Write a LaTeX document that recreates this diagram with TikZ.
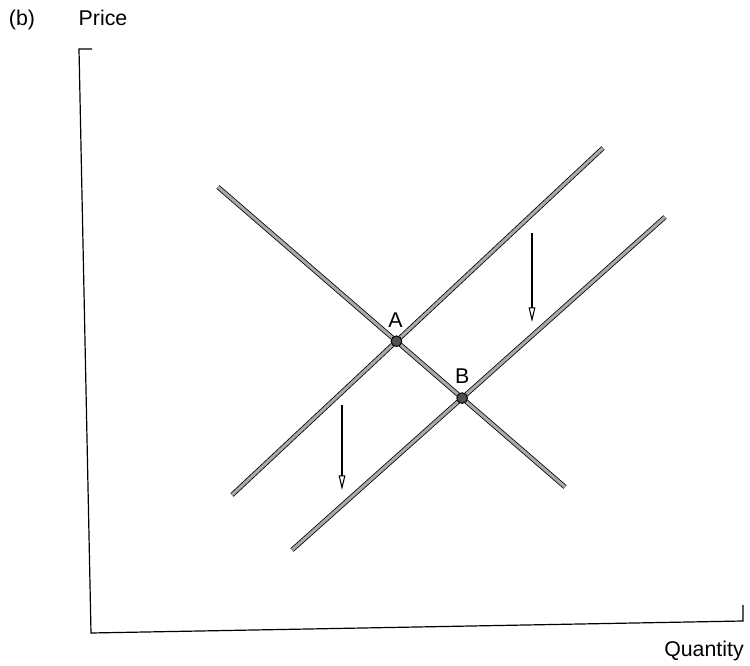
\documentclass[tikz,border=0pt]{standalone}
\usepackage{fontspec}
\setmainfont{Liberation Sans}
\usetikzlibrary{arrows.meta}
\tikzset{every picture/.style={line width=0.75pt}}
\tikzset{
market line/.style={draw=black, line width=0.6pt, double={rgb,255:red,170;green,170;blue,170}, double distance=2.3pt},
shift arrow/.style={draw=black, line width=0.8pt, -{Triangle[open, length=11pt, width=5pt]}},
eq point/.style={circle, draw=black, line width=0.7pt, fill={rgb,255:red,80;green,80;blue,80}, inner sep=0pt, minimum size=8pt},
axis label/.style={inner sep=0.75pt, font=\fontsize{16}{19}\selectfont}}

\begin{document}
\begin{tikzpicture}[x=0.75pt,y=0.75pt,yscale=-1,xscale=1]
\useasboundingbox (0,0) rectangle (750,666);

%Straight Lines: axes
\coordinate (ytop) at (79,49);
\coordinate (ytick) at (92,49);
\coordinate (origin) at (91,633);
\coordinate (xend) at (743,621);
\coordinate (xtick) at (743,605);
\draw [line width=0.9pt] (ytick) -- (ytop) -- (origin) -- (xend) -- (xtick) ;

%Straight Lines: demand and supply
\coordinate (d1) at (218,187);
\coordinate (d2) at (565,487);
\coordinate (s1a) at (232,495);
\coordinate (s1b) at (603,148);
\coordinate (s2a) at (292,550);
\coordinate (s2b) at (665,217);
\draw [market line] (d1) -- (d2) ;
\draw [market line] (s1a) -- (s1b) ;
\draw [market line] (s2a) -- (s2b) ;

%Shape: equilibrium points
\node [eq point] (ptA) at (intersection of d1--d2 and s1a--s1b) {};
\node [eq point] (ptB) at (intersection of d1--d2 and s2a--s2b) {};

%Straight Lines: shift arrows
\coordinate (arr1top) at (532,233);
\coordinate (arr1tip) at (532,322);
\coordinate (arr2top) at (342,405);
\coordinate (arr2tip) at (342,490);
\draw [shift arrow] (arr1top) -- (arr1tip) ;
\draw [shift arrow] (arr2top) -- (arr2tip) ;

% Text Node
\draw (22,20) node [axis label] (lblb) {(b)};
% Text Node
\draw (103,18) node [axis label] (lblprice) {Price};
% Text Node
\draw (704,651) node [axis label] (lblqty) {Quantity};
% Text Node
\draw (ptA) ++(-1,-21) node [axis label] (lblA) {A};
% Text Node
\draw (ptB) ++(0,-22) node [axis label] (lblB) {B};

\end{tikzpicture}
\end{document}
